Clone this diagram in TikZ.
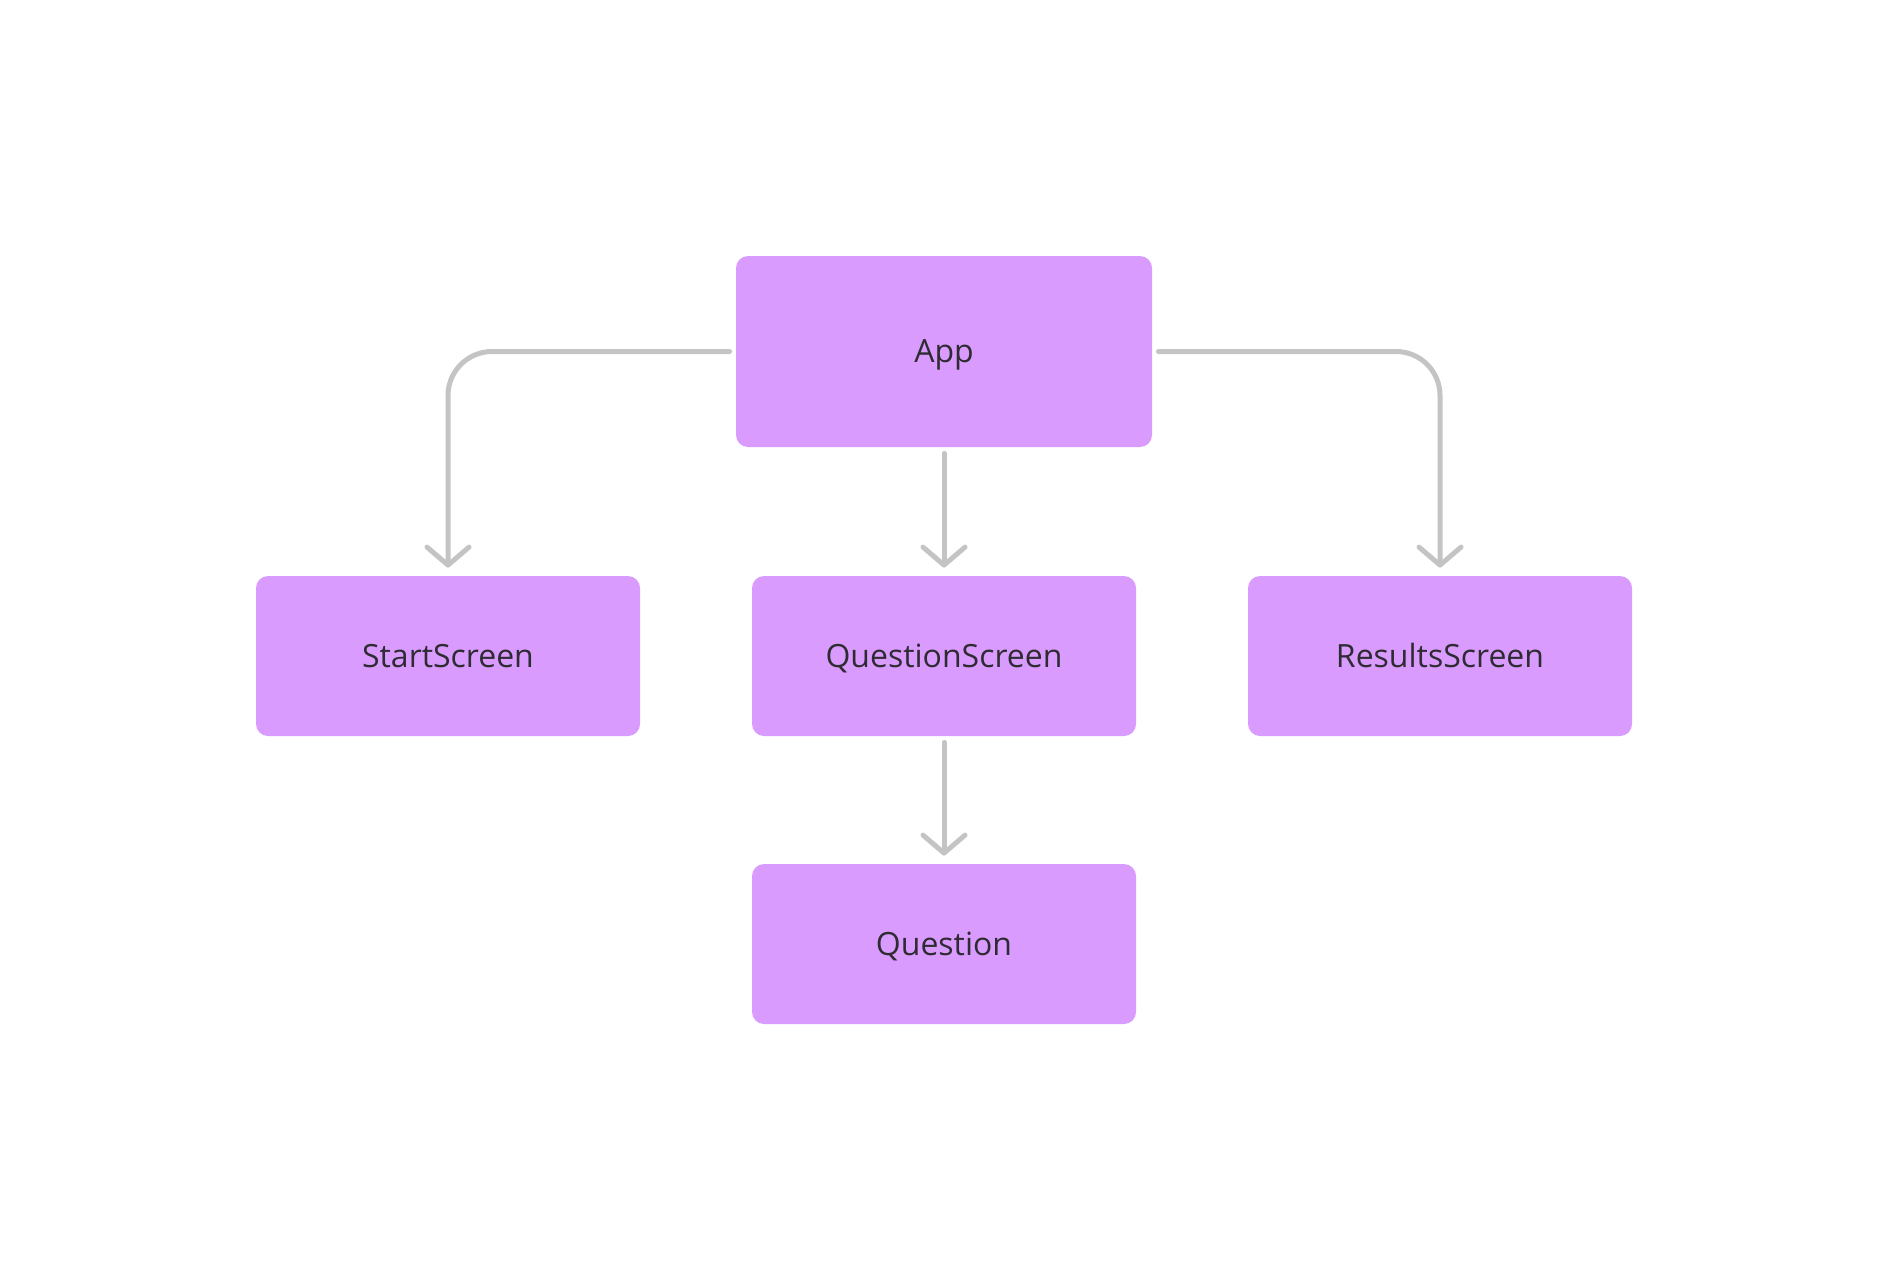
\documentclass[tikz,border=0pt]{standalone}
\usepackage{fontspec}
\setsansfont{Open Sans}
\usetikzlibrary{arrows.meta}
\usetikzlibrary{positioning}
\definecolor{mpurple}{HTML}{D99CFE}
\definecolor{mgrey}{HTML}{C4C4C4}
\definecolor{mtext}{HTML}{2F2B33}
\tikzset{comp/.style = {rectangle, rounded corners=6pt, fill=mpurple, draw=none,
                        inner sep=0pt, text=mtext, text height=11.4pt, text depth=0pt,
                        font=\sffamily\fontsize{16}{19}\selectfont},
         link/.style = {mgrey, line width=2.5pt, line cap=round,
                        -{Straight Barb[length=9pt, width=21pt, round]},
                        shorten <=3pt, shorten >=4pt}}

\begin{document}
\begin{tikzpicture}[x=0.5pt, y=-0.5pt]
    \useasboundingbox (0, 0) rectangle (1888, 1280);

    \node [comp, minimum width=208pt, minimum height=95.5pt] (app) at (944, 351.5) {App};
    \node [comp, minimum width=192pt, minimum height=80pt] (start) at (448, 656) {StartScreen};
    \node [comp, minimum width=192pt, minimum height=80pt] (qscreen) at (944, 656) {QuestionScreen};
    \node [comp, minimum width=192pt, minimum height=80pt] (results) at (1440, 656) {ResultsScreen};
    \node [comp, minimum width=192pt, minimum height=80pt] (question) at (944, 944) {Question};

    \draw [link, rounded corners=22pt] (app.west) -| (start.north);
    \draw [link, rounded corners=22pt] (app.east) -| (results.north);
    \draw [link] (app.south) -- (qscreen.north);
    \draw [link] (qscreen.south) -- (question.north);
\end{tikzpicture}
\end{document}
